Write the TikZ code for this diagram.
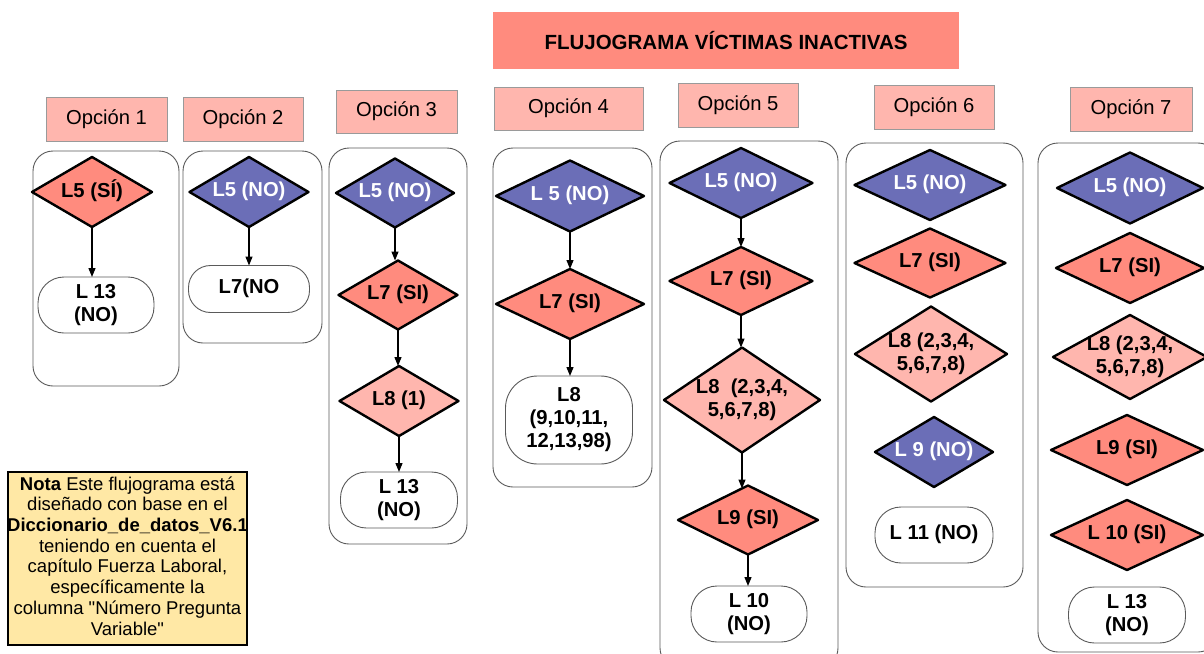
\documentclass[tikz,border=0pt]{standalone}
\usepackage{fontspec}
\setmainfont{Liberation Sans}
\newfontfamily\qfont{Liberation Sans}
\usetikzlibrary{arrows.meta,shapes.geometric}
\definecolor{bluD}{HTML}{6B6EB7}
\definecolor{salm}{HTML}{FF8B7E}
\definecolor{pinkL}{HTML}{FFB6AE}
\definecolor{noteY}{HTML}{FFE8A5}
\definecolor{contG}{HTML}{5A5A5A}
\definecolor{hdrG}{HTML}{9A9A9A}
\newcommand{\zt}[1]{\makebox[0pt]{\begin{tabular}{@{}c@{}}#1\end{tabular}}}
\newcommand{\dgfont}{\fontsize{20.2}{23}\selectfont\bfseries}
\newcommand{\hdfont}{\fontsize{20.2}{23}\selectfont}
\newcommand{\sq}{{\qfont"}}
\tikzset{
  dia/.style={shape=diamond, draw=black, line width=2.4pt, line join=round, inner sep=0pt, outer sep=0pt, font=\dgfont},
  dblue/.style={dia, fill=bluD, text=white},
  dsal/.style={dia, fill=salm},
  dpink/.style={dia, fill=pinkL},
  term/.style={draw=contG, line width=0.9pt, fill=white, rounded corners=26pt, inner sep=0pt, outer sep=0pt, font=\dgfont},
  cont/.style={draw=contG, line width=0.9pt, rounded corners=20pt},
  hdr/.style={draw=hdrG, line width=0.9pt, fill=pinkL, inner sep=0pt, font=\hdfont},
  arr/.style={line width=1.3pt, -{Triangle[length=9pt,width=7pt]}}
}
\begin{document}
\begin{tikzpicture}[x=1pt,y=-1pt]
\clip (0,0) rectangle (1204,653);
\fill[white] (0,0) rectangle (1204,653);

% title
\node[fill=salm, minimum width=466pt, minimum height=57pt, inner sep=0pt, font=\fontsize{20.5}{23}\selectfont\bfseries] (title) at (726,40.5) {FLUJOGRAMA VÍCTIMAS INACTIVAS};

% headers
\node[hdr, minimum width=121pt, minimum height=44pt] (h1) at (106.5,119) {Opción 1};
\node[hdr, minimum width=120pt, minimum height=44pt] (h2) at (243,119) {Opción 2};
\node[hdr, minimum width=121pt, minimum height=43pt] (h3) at (396.5,111.5) {Opción 3};
\node[hdr, minimum width=149pt, minimum height=43pt] (h4) at (568.5,108.5) {Opción 4};
\node[hdr, minimum width=120pt, minimum height=44pt] (h5) at (738,105.5) {Opción 5};
\node[hdr, minimum width=120pt, minimum height=44pt] (h6) at (934,107) {Opción 6};
\node[hdr, minimum width=122pt, minimum height=44pt] (h7) at (1131,109) {Opción 7};

% containers
\draw[cont] (33,151) rectangle (179,386);
\draw[cont] (183,151) rectangle (322,343);
\draw[cont] (329,148) rectangle (467,544);
\draw[cont] (493,148) rectangle (652,487);
\draw[cont] (660,141) rectangle (838,668);
\draw[cont] (846,143) rectangle (1023,587);
\draw[cont] (1038,143) rectangle (1218,652);

% Opcion 1
\node[dsal, minimum width=120pt, minimum height=70pt] (d11) at (92,192) {\zt{L5 (SÍ)}};
\node[term, minimum width=116pt, minimum height=56pt] (t11) at (96,305) {\zt{L 13\\(NO)}};
\draw[arr] (d11.south) -- (d11.south |- t11.north);

% Opcion 2
\node[dblue, minimum width=119pt, minimum height=70pt] (d21) at (249,192) {\zt{L5 (NO)}};
\node[term, rounded corners=22pt, minimum width=121pt, minimum height=47pt] (t21) at (249,289) {\zt{L7(NO}};
\draw[arr] (d21.south) -- (t21.north);

% Opcion 3
\node[dblue, minimum width=118pt, minimum height=69pt] (d31) at (395,193) {\zt{L5 (NO)}};
\node[dsal, minimum width=119pt, minimum height=69pt] (d32) at (398,295) {\zt{L7 (SI)}};
\node[dpink, minimum width=119pt, minimum height=70pt] (d33) at (399,401) {\zt{L8 (1)}};
\node[term, minimum width=117pt, minimum height=56pt] (t31) at (399,500) {\zt{L 13\\(NO)}};
\draw[arr] (d31.south) -- (d31.south |- d32.north);
\draw[arr] (d32.south) -- (d32.south |- d33.north);
\draw[arr] (d33.south) -- (t31.north);

% Opcion 4
\node[dblue, minimum width=148pt, minimum height=71pt] (d41) at (570,196) {\zt{L 5 (NO)}};
\node[dsal, minimum width=148pt, minimum height=70pt] (d42) at (570,304) {\zt{L7 (SI)}};
\node[term, rounded corners=32pt, minimum width=127pt, minimum height=88pt] (t41) at (569,420) {\zt{L8\\(9,10,11,\\12,13,98)}};
\draw[arr] (d41.south) -- (d42.north);
\draw[arr] (d42.south) -- (d42.south |- t41.north);

% Opcion 5
\node[dblue, minimum width=143pt, minimum height=70pt] (d51) at (741,183) {\zt{L5 (NO)}};
\node[dsal, minimum width=143pt, minimum height=68pt] (d52) at (741,281) {\zt{L7 (SI)}};
\node[dpink, minimum width=156pt, minimum height=105pt] (d53) at (742,400) {\zt{L8\ \ (2,3,4,\\5,6,7,8)}};
\node[dsal, minimum width=140pt, minimum height=69pt] (d54) at (748,520) {\zt{L9 (SI)}};
\node[term, minimum width=116pt, minimum height=56pt] (t51) at (749,614) {\zt{L 10\\(NO)}};
\draw[arr] (d51.south) -- (d52.north);
\draw[arr] (d52.south) -- (d52.south |- d53.north);
\draw[arr] (d53.south) -- ([yshift=-3pt]d53.south |- d54.north);
\draw[arr] (d54.south) -- (d54.south |- t51.north);

% Opcion 6
\node[dblue, minimum width=151pt, minimum height=70pt] (d61) at (930,185) {\zt{L5 (NO)}};
\node[dsal, minimum width=151pt, minimum height=69pt] (d62) at (930,263) {\zt{L7 (SI)}};
\node[dpink, minimum width=152pt, minimum height=95pt] (d63) at (931,354) {\zt{L8 (2,3,4,\\5,6,7,8)}};
\node[dblue, minimum width=118pt, minimum height=70pt] (d64) at (934,452) {\zt{L 9 (NO)}};
\node[term, minimum width=118pt, minimum height=56pt] (t61) at (934,535) {\zt{L 11 (NO)}};

% Opcion 7
\node[dblue, minimum width=146pt, minimum height=71pt] (d71) at (1130,188) {\zt{L5 (NO)}};
\node[dsal, minimum width=148pt, minimum height=70pt] (d72) at (1130,268) {\zt{L7 (SI)}};
\node[dpink, minimum width=154pt, minimum height=84pt] (d73) at (1130,357) {\zt{L8 (2,3,4,\\5,6,7,8)}};
\node[dsal, minimum width=152pt, minimum height=70pt] (d74) at (1127,450) {\zt{L9 (SI)}};
\node[dsal, minimum width=152pt, minimum height=70pt] (d75) at (1127,535) {\zt{L 10 (SI)}};
\node[term, minimum width=117pt, minimum height=56pt] (t71) at (1127,615) {\zt{L 13\\(NO)}};

% note
\node[draw=black, line width=1.3pt, fill=noteY, minimum width=239pt, minimum height=173pt, inner sep=0pt, font=\fontsize{18.5}{20.7}\selectfont] (note) at (127.5,558.5) {\zt{\textbf{Nota} Este flujograma está\\diseñado con base en el\\\textbf{Diccionario\_de\_datos\_V6.1}\\teniendo en cuenta el\\capítulo Fuerza Laboral,\\específicamente la\\columna \sq Número Pregunta\\Variable\sq}};
\end{tikzpicture}
\end{document}
